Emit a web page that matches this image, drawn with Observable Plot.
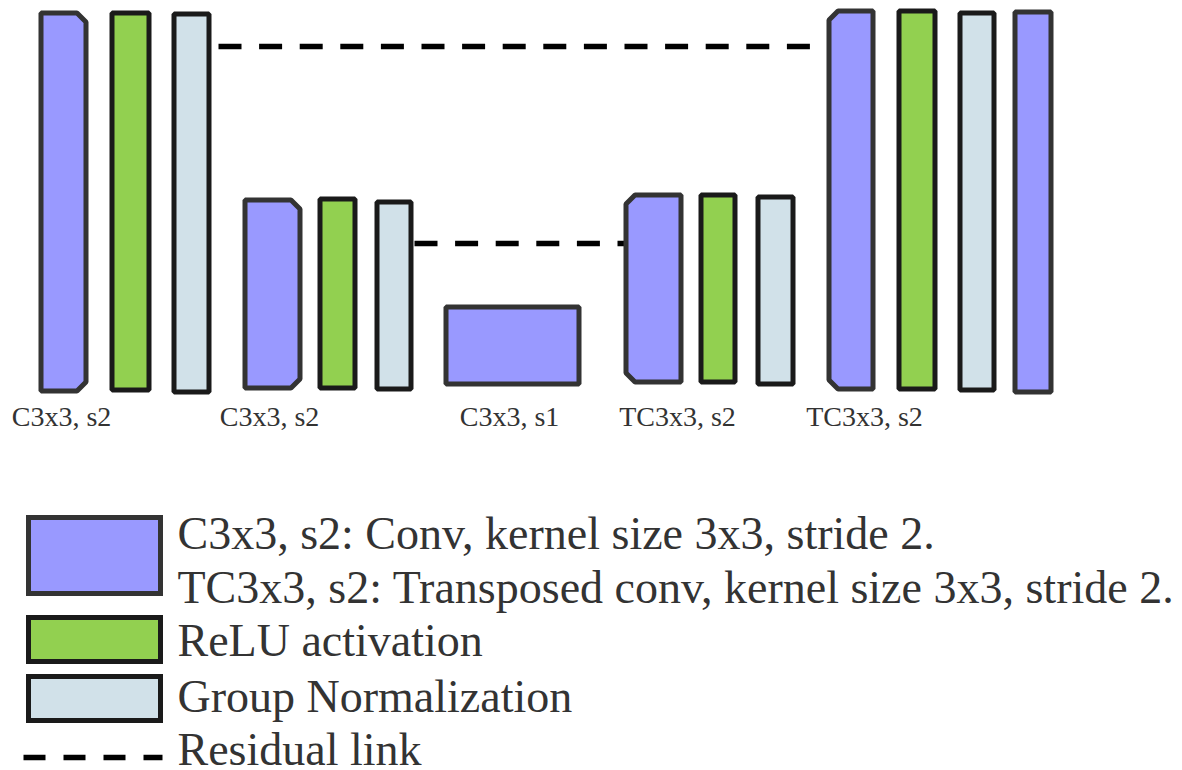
<!DOCTYPE html>
<html>
<head>
<meta charset="utf-8">
<script src="https://cdn.jsdelivr.net/npm/d3@7"></script>
<script src="https://cdn.jsdelivr.net/npm/@observablehq/plot@0.6"></script>
<style>
  html, body { margin: 0; padding: 0; background: #ffffff; }
  #chart svg { display: block; }
</style>
</head>
<body>
<div id="chart"></div>
<script>
// ---- Blocks of the U-shaped network (diagram units) ----
const blockKind    = ["conv","relu","norm","conv","relu","norm","conv","tconv","relu","norm","tconv","relu","norm","conv"];
const blockLeft    = [41, 112, 174, 245, 320, 377, 446, 626, 701, 758, 829, 899, 960, 1015];
const blockRight   = [86, 149, 209, 300, 355, 411, 579, 681, 735, 793, 873, 935, 994, 1051];
const blockTop     = [13, 13, 14, 200, 199, 202, 307, 195, 195, 197, 11, 11, 13, 12];
const blockBottom  = [391, 390, 392, 388, 388, 389, 384, 382, 382, 384, 389, 389, 390, 392];
const blockCut     = ["right","none","none","right","none","none","none","left","none","none","left","none","none","none"];

// ---- Stage labels ----
const stageLabels  = ["C3x3, s2", "C3x3, s2", "C3x3, s1", "TC3x3, s2", "TC3x3, s2"];
const stageLabelX  = [61, 269, 509, 677, 864];
const stageLabelY  = 425;

// ---- Residual links ----
const linkY     = [46, 243];
const linkStart = [218, 414];
const linkEnd   = [829, 626];

// ---- Legend ----
const legendLines = [
  "C3x3, s2: Conv, kernel size 3x3, stride 2.",
  "TC3x3, s2: Transposed conv, kernel size 3x3, stride 2.",
  "ReLU activation",
  "Group Normalization",
  "Residual link"
];
const legendBaseline = [548, 602, 655, 711, 764];
const legendTextX = 177;
const legendSwatchKind = ["conv", "relu", "norm"];
const legendSwatchTop = [517.5, 617.5, 676.5];
const legendSwatchBottom = [593.5, 661.5, 720.5];
const legendSwatchLeft = 28.5, legendSwatchRight = 160.5;
const legendLink = {y: 757, x1: 23, x2: 162};

// ---- Styles ----
const fillOf   = {conv: "#9999ff", tconv: "#9999ff", relu: "#92d050", norm: "#d1e1e9"};
const strokeOf = {conv: "#333333", tconv: "#333333", relu: "#1a1a1a", norm: "#1a1a1a"};
const cut = 9;
const W = 1182, H = 770;
const serif = "Liberation Serif, Times New Roman, serif";

// Build outline vertices for each block (area: x, y1 = top, y2 = bottom)
const outline = [];
blockKind.forEach((k, i) => {
  const x0 = blockLeft[i], x1 = blockRight[i], t = blockTop[i], b = blockBottom[i];
  let pts;
  if (blockCut[i] === "right") pts = [[x0, t, b], [x1 - cut, t, b], [x1, t + cut, b - cut]];
  else if (blockCut[i] === "left") pts = [[x0, t + cut, b - cut], [x0 + cut, t, b], [x1, t, b]];
  else pts = [[x0, t, b], [x1, t, b]];
  pts.forEach(([x, y1, y2]) => outline.push({id: i, kind: k, x, y1, y2}));
});

const links = linkY.map((y, i) => ({y, x1: linkStart[i], x2: linkEnd[i]}));
const labels = stageLabels.map((text, i) => ({text, x: stageLabelX[i], y: stageLabelY}));
const legendText = legendLines.map((text, i) => ({text, x: legendTextX, y: legendBaseline[i]}));
const swatches = legendSwatchKind.map((k, i) => ({kind: k, x1: legendSwatchLeft, x2: legendSwatchRight, y1: legendSwatchTop[i], y2: legendSwatchBottom[i]}));

const kinds = ["conv", "tconv", "relu", "norm"];
const blockMarks = kinds.map(k => Plot.area(outline.filter(d => d.kind === k), {
  x1: "x", y1: "y1", y2: "y2", z: "id",
  fill: fillOf[k], stroke: strokeOf[k], strokeWidth: 5, strokeLinejoin: "miter", curve: "linear"
}));
const swatchMarks = legendSwatchKind.map(k => Plot.rect(swatches.filter(d => d.kind === k), {
  x1: "x1", x2: "x2", y1: "y1", y2: "y2",
  fill: fillOf[k], stroke: strokeOf[k], strokeWidth: 5
}));

const chart = Plot.plot({
  width: W,
  height: H,
  margin: 0,
  x: {domain: [0, W], range: [0, W], axis: null},
  y: {domain: [0, H], range: [0, H], axis: null},
  marks: [
    Plot.link(links, {x1: "x1", x2: "x2", y1: "y", y2: "y", stroke: "#000", strokeWidth: 5.5, strokeDasharray: "23,17.6"}),
    ...blockMarks,
    Plot.text(labels, {x: "x", y: "y", text: "text", fontFamily: serif,
      fontSize: 28, fill: "#333", textAnchor: "middle", lineAnchor: "bottom"}),
    ...swatchMarks,
    Plot.link([legendLink], {x1: "x1", x2: "x2", y1: "y", y2: "y", stroke: "#000", strokeWidth: 5.5, strokeDasharray: "22,18"}),
    Plot.text(legendText, {x: "x", y: "y", text: "text", fontFamily: serif,
      fontSize: 46, fill: "#333", textAnchor: "start", lineAnchor: "bottom"})
  ]
});
document.getElementById("chart").appendChild(chart);
</script>
</body>
</html>
